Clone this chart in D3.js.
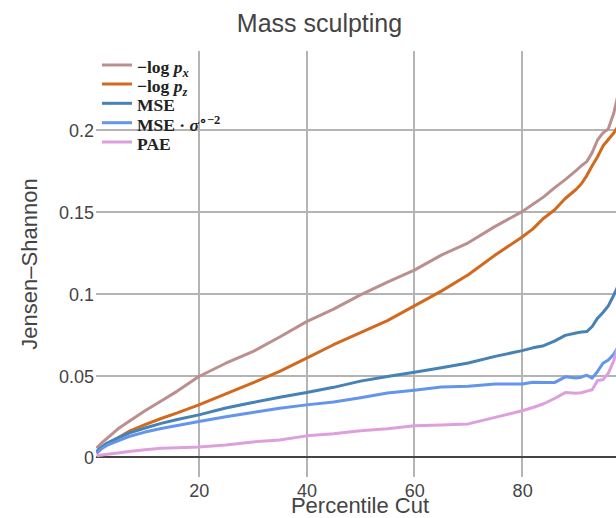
<!DOCTYPE html>
<html><head><meta charset="utf-8">
<script src="https://cdn.jsdelivr.net/npm/d3@7"></script>
<style>body{margin:0;overflow:hidden;background:#fff} svg{display:block}</style>
</head><body><svg id="chart" width="616" height="518"></svg>
<script>
// ---- data ----
const percentiles = [1,2,3,5,7,10,13,16,20,25,30,35,40,45,50,55,60,65,70,75,80,82,84,86,88,90,91,92,93,94,95,96,97,98,99];
const negLogPx = [0.0057,0.009,0.0118,0.0175,0.022,0.0285,0.0345,0.0405,0.0494,0.0575,0.0646,0.0735,0.0829,0.0905,0.0992,0.107,0.1143,0.1235,0.131,0.141,0.15,0.1545,0.159,0.1645,0.1695,0.175,0.178,0.1805,0.186,0.1937,0.198,0.2005,0.21,0.224,0.235];
const negLogPz = [0.0027,0.006,0.0085,0.012,0.0159,0.02,0.0238,0.0272,0.0321,0.0388,0.0455,0.0525,0.0606,0.0688,0.0762,0.0835,0.0925,0.1015,0.1115,0.1235,0.1345,0.1395,0.146,0.151,0.158,0.1635,0.167,0.172,0.178,0.1835,0.19,0.194,0.198,0.203,0.21];
const mse = [0.0037,0.0065,0.0088,0.012,0.0149,0.018,0.0208,0.0232,0.026,0.0302,0.0335,0.0368,0.0396,0.0428,0.0466,0.0494,0.052,0.0548,0.0577,0.0617,0.0652,0.0669,0.0682,0.071,0.0745,0.076,0.0765,0.0768,0.0799,0.085,0.0885,0.0925,0.099,0.106,0.113];
const mseSigma = [0.0027,0.0055,0.0075,0.0102,0.0128,0.0155,0.0177,0.0195,0.022,0.0248,0.0275,0.03,0.0321,0.0338,0.0365,0.0393,0.041,0.043,0.0435,0.0448,0.0448,0.0459,0.0458,0.0457,0.0492,0.0485,0.049,0.0502,0.0484,0.0525,0.0575,0.0595,0.063,0.0685,0.074];
const pae = [0.001,0.0015,0.002,0.0028,0.0037,0.0047,0.0057,0.006,0.0064,0.0076,0.0095,0.0107,0.0132,0.0145,0.0163,0.0175,0.0194,0.0198,0.0205,0.0245,0.0285,0.0305,0.0328,0.036,0.0396,0.0392,0.0395,0.0405,0.0413,0.047,0.0474,0.0515,0.059,0.07,0.08];

const seriesValues = [negLogPx, negLogPz, mse, mseSigma, pae];
const seriesColors = ["#bc8f8f", "#d2691e", "#4682b4", "#6495ed", "#dda0dd"];
// legend labels as text segments (math-like)
const legendLabels = [
  [{t:"−log "},{t:"p",i:1},{t:"x",i:1,sub:1}],
  [{t:"−log "},{t:"p",i:1},{t:"z",i:1,sub:1}],
  [{t:"MSE"}],
  [{t:"MSE · "},{t:"σ",i:1},{t:"∘−2",sup:1}],
  [{t:"PAE"}]
];
const xTicks = [20, 40, 60, 80];
const yTicks = [0, 0.05, 0.1, 0.15, 0.2];
const yTickLabels = ["0", "0.05", "0.1", "0.15", "0.2"];
const titleText = "Mass sculpting";
const xTitle = "Percentile Cut";
const yTitle = "Jensen–Shannon";

// ---- layout ----
const svg = d3.select("#chart");
const L = 96, R = 624, T = 51, B = 477;
const x = d3.scaleLinear().domain([1, 99]).range([96.5, 624.5]);
const y = d3.scaleLinear().domain([-0.0119, 0.248]).range([B, T]);
const font = "'Liberation Sans', Arial, sans-serif";
const grid = "#b4b4b4";

svg.append("defs").append("clipPath").attr("id","clip")
  .append("rect").attr("x",L).attr("y",T).attr("width",R-L).attr("height",B-T);

// gridlines
const g = svg.append("g");
g.selectAll("line.vx").data(xTicks).join("line")
  .attr("x1", d => Math.round(x(d))).attr("x2", d => Math.round(x(d)))
  .attr("y1", T).attr("y2", B).attr("stroke", grid).attr("stroke-width", 2);
g.selectAll("line.hy").data(yTicks.filter(d => d !== 0)).join("line")
  .attr("x1", L).attr("x2", R)
  .attr("y1", d => Math.round(y(d))).attr("y2", d => Math.round(y(d)))
  .attr("stroke", grid).attr("stroke-width", 2);
// zero line
g.append("line").attr("x1", L).attr("x2", R)
  .attr("y1", Math.round(y(0))).attr("y2", Math.round(y(0)))
  .attr("stroke", "#444").attr("stroke-width", 2);

// tick labels via axes
const xAxis = d3.axisBottom(x).tickValues(xTicks).tickSize(0).tickPadding(0).tickFormat(d3.format("d"));
const xa = svg.append("g").attr("transform", `translate(0,${B})`).call(xAxis);
xa.select(".domain").remove();
xa.selectAll("text").attr("font-family", font).attr("font-size", 18).attr("fill", "#444")
  .attr("dy", null).attr("y", 20);

const yAxis = d3.axisLeft(y).tickValues(yTicks).tickSize(0).tickPadding(0)
  .tickFormat((d, i) => yTickLabels[i]);
const ya = svg.append("g").attr("transform", `translate(${L - 2},0)`).call(yAxis);
ya.select(".domain").remove();
ya.selectAll("text").attr("font-family", font).attr("font-size", 18).attr("fill", "#444")
  .attr("dy", "0.36em");

// lines
const line = d3.line().x((d, i) => x(percentiles[i])).y(d => y(d));
svg.append("g").attr("clip-path", "url(#clip)")
  .selectAll("path").data(seriesValues).join("path")
  .attr("d", d => line(d)).attr("fill", "none")
  .attr("stroke", (d, i) => seriesColors[i]).attr("stroke-width", 3)
  .attr("stroke-linejoin", "round");

// titles
svg.append("text").attr("x", 319.5).attr("y", 32).attr("text-anchor", "middle")
  .attr("font-family", font).attr("font-size", 25).attr("fill", "#444").text(titleText);
svg.append("text").attr("x", (L + R) / 2).attr("y", 513).attr("text-anchor", "middle")
  .attr("font-family", font).attr("font-size", 22).attr("fill", "#444").text(xTitle);
svg.append("text").attr("transform", "translate(37,264) rotate(-90)").attr("text-anchor", "middle")
  .attr("font-family", font).attr("font-size", 22).attr("fill", "#444").text(yTitle);

// legend
const rowY = [65, 84, 103.3, 122.7, 142];
const lg = svg.append("g");
legendLabels.forEach((segs, k) => {
  lg.append("line").attr("x1", 102).attr("x2", 132).attr("y1", rowY[k]).attr("y2", rowY[k])
    .attr("stroke", seriesColors[k]).attr("stroke-width", 3);
  const t = lg.append("text").attr("x", 137).attr("y", rowY[k] + 8)
    .attr("font-family", "'Liberation Serif', 'Times New Roman', serif")
    .attr("font-weight", "bold").attr("font-size", 17.5).attr("fill", "#222");
  segs.forEach(s => {
    const ts = t.append("tspan").text(s.t);
    if (s.i) ts.attr("font-style", "italic");
    if (s.sub) ts.attr("font-size", 12.5).attr("dy", 4);
    if (s.sup) ts.attr("font-size", 12.5).attr("dy", -7);
  });
});
</script></body></html>
